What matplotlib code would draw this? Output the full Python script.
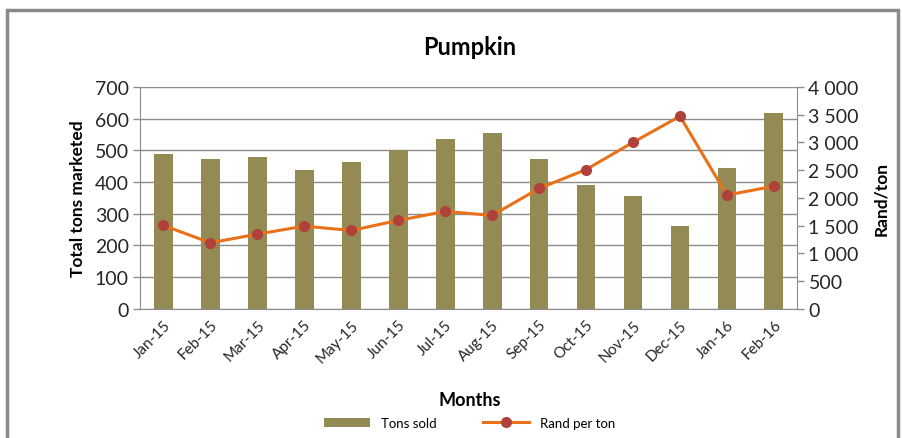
import numpy as np
import matplotlib.pyplot as plt
from matplotlib.patches import Rectangle
from matplotlib.ticker import FuncFormatter

months = ["Jan-15", "Feb-15", "Mar-15", "Apr-15", "May-15", "Jun-15", "Jul-15",
          "Aug-15", "Sep-15", "Oct-15", "Nov-15", "Dec-15", "Jan-16", "Feb-16"]
tons_sold = [487, 471, 479, 439, 463, 501, 534, 553, 471, 389, 356, 261, 443, 617]
rand_per_ton = [1504, 1191, 1347, 1491, 1413, 1594, 1756, 1684, 2170, 2510,
                3000, 3470, 2050, 2210]

plt.rcParams['font.family'] = ['Lato', 'DejaVu Sans']

bar_color = '#948A54'
line_color = '#E8711A'
marker_color = '#B0403A'
grid_color = '#8C8C8C'
text_color = '#262626'

fig = plt.figure(figsize=(9.03, 4.39), dpi=100)
ax = fig.add_axes([0.155, 0.294, 0.728, 0.506])
ax2 = ax.twinx()

x = np.arange(len(months))
bars = ax.bar(x, tons_sold, width=0.4, color=bar_color, zorder=2, label='Tons sold')
line, = ax2.plot(x, rand_per_ton, color=line_color, lw=2.2, marker='o', ms=7,
                 mfc=marker_color, mec=marker_color, zorder=3, label='Rand per ton')

ax.set_xlim(-0.5, len(months) - 0.5)
ax.set_ylim(0, 700)
ax.set_yticks(np.arange(0, 701, 100))
ax2.set_ylim(0, 4000)
ax2.set_yticks(np.arange(0, 4001, 500))
ax2.yaxis.set_major_formatter(FuncFormatter(lambda v, p: f"{int(v):,}".replace(",", " ")))

ax.yaxis.grid(True, color=grid_color, lw=1, zorder=0)
ax.set_axisbelow(True)

for a in (ax, ax2):
    for s in a.spines.values():
        s.set_visible(False)
    a.tick_params(axis='y', colors=grid_color, length=5, width=1, labelcolor=text_color,
                  labelsize=14, pad=3)
ax.spines['left'].set_visible(True)
ax.spines['left'].set_color(grid_color)
ax.spines['bottom'].set_visible(True)
ax.spines['bottom'].set_color(grid_color)
ax2.spines['right'].set_visible(True)
ax2.spines['right'].set_color(grid_color)

ax.set_xticks(x)
ax.set_xticklabels(months, rotation=45, ha='right', rotation_mode='anchor',
                   fontsize=11, color=text_color)
ax.tick_params(axis='x', length=0, pad=6)

ax.set_ylabel('Total tons marketed', fontsize=12.5, fontweight='bold', labelpad=6)
ax2.set_ylabel('Rand/ton', fontsize=12.5, fontweight='bold', labelpad=10)

fig.text(0.52, 0.892, 'Pumpkin', ha='center', va='center', fontsize=17, fontweight='bold')
fig.text(0.52, 0.087, 'Months', ha='center', va='center', fontsize=13, fontweight='bold')

fig.legend(handles=[bars, line], loc='center', bbox_to_anchor=(0.52, 0.034), ncol=2,
           frameon=False, fontsize=9.5, handlelength=3.5, columnspacing=3.5)

# outer chart border
fig.patches.append(Rectangle((0.008, -0.05), 0.986, 1.025, transform=fig.transFigure,
                             fill=False, edgecolor='#8A8A8A', lw=2.5))

fig.savefig('out.png', dpi=100)
